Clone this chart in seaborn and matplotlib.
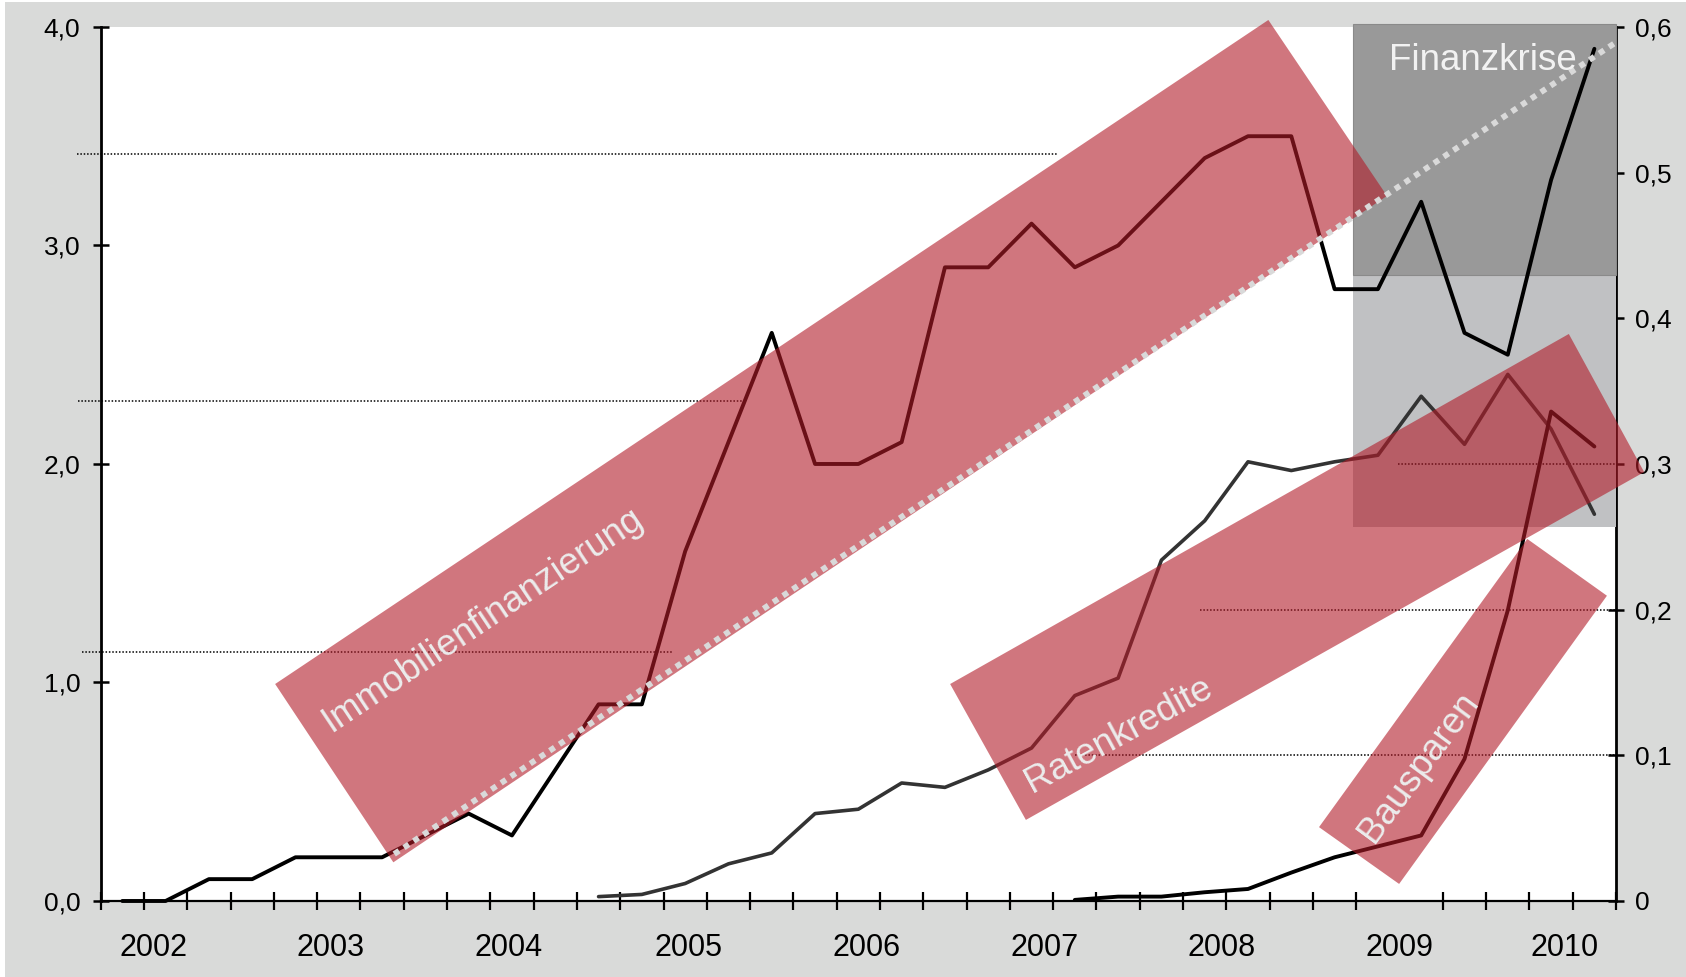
import numpy as np
import pandas as pd
import matplotlib
matplotlib.use("Agg")
import matplotlib.pyplot as plt
from matplotlib.patches import Polygon, Rectangle
import seaborn as sns

# quarterly series, quarter 0 = first quarter shown
immo_values = [0.0, 0.0, 0.1, 0.1, 0.2, 0.2, 0.2, 0.3, 0.4, 0.3, 0.6, 0.9, 0.9, 1.6, 2.1, 2.6, 2.0, 2.0,
               2.1, 2.9, 2.9, 3.1, 2.9, 3.0, 3.2, 3.4, 3.5, 3.5, 2.8, 2.8, 3.2, 2.6, 2.5, 3.3, 3.9]
raten_start = 11
raten_values = [0.02, 0.03, 0.08, 0.17, 0.22, 0.40, 0.42, 0.54, 0.52, 0.60, 0.70, 0.94, 1.02, 1.56,
                1.74, 2.01, 1.97, 2.01, 2.04, 2.31, 2.09, 2.41, 2.16, 1.77]
bauspar_start = 22
bauspar_values = [0.005, 0.02, 0.02, 0.04, 0.055, 0.13, 0.20, 0.25, 0.30, 0.65, 1.33, 2.24, 2.08]

n_quarters = 35
years = ['2002', '2003', '2004', '2005', '2006', '2007', '2008', '2009', '2010']
year_pos = [1.23, 5.32, 9.43, 13.57, 17.7, 21.8, 25.9, 30.0, 33.8]
left_ticks = [0.0, 1.0, 2.0, 3.0, 4.0]
right_ticks = [0, 0.1, 0.2, 0.3, 0.4, 0.5, 0.6]

# annotation shapes (quarter position, left-axis value)
band_immo = [(4.03, 0.993), (6.76, 0.177), (29.71, 3.227), (26.97, 4.032)]
band_raten = [(19.62, 0.993), (21.37, 0.371), (35.65, 1.963), (33.91, 2.595)]
band_bauspar = [(28.14, 0.338), (29.99, 0.078), (34.79, 1.397), (32.95, 1.657)]
band_labels = [('Immobilienfinanzierung', 8.95, 1.25, 33.7),
               ('Ratenkredite', 23.62, 0.72, 28.5),
               ('Bausparen', 30.62, 0.586, 53.5)]
trend = ([6.78, 35.0], [0.215, 3.93])
ref_lines = [(3.42, -0.55, 22.1), (2.29, -0.52, 14.85), (1.14, -0.43, 13.2),
             (2.0, 29.96, 35.0), (1.333, 25.4, 35.0), (0.667, 22.5, 35.0)]
crisis_x = (28.93, 35.0)
crisis_dark = (2.865, 4.014)
crisis_light = (1.713, 2.865)

sns.set_style('ticks')
plt.rcParams['font.family'] = ['Liberation Sans', 'DejaVu Sans']

fig = plt.figure(figsize=(16.86, 9.77), dpi=100, facecolor='white')
fig.patches.append(Rectangle((5 / 1686, 0), 1, 975 / 977, transform=fig.transFigure,
                             facecolor='#d9dad9', edgecolor='none', zorder=-10))
ax = fig.add_axes([0.0597, 0.0778, 0.8988, 0.8946])
ax.set_facecolor('white')

# crisis box
ax.add_patch(Rectangle((crisis_x[0], crisis_light[0]), crisis_x[1] - crisis_x[0],
                       crisis_light[1] - crisis_light[0], facecolor='#c0c1c3', edgecolor='none',
                       zorder=0.5, clip_on=False))
ax.add_patch(Rectangle((crisis_x[0], crisis_dark[0]), crisis_x[1] - crisis_x[0],
                       crisis_dark[1] - crisis_dark[0], facecolor='#999999', edgecolor='#8a8a8a',
                       lw=0.8, zorder=0.6, clip_on=False))

for y, x0, x1 in ref_lines:
    ax.plot([x0, x1], [y, y], color='black', lw=1.1, ls=(0, (1, 1.2)), zorder=1, clip_on=False)

df_immo = pd.DataFrame({'q': np.arange(len(immo_values)) + 0.5, 'v': immo_values})
df_raten = pd.DataFrame({'q': np.arange(len(raten_values)) + raten_start + 0.5, 'v': raten_values})
df_bau = pd.DataFrame({'q': np.arange(len(bauspar_values)) + bauspar_start + 0.5, 'v': bauspar_values})

sns.lineplot(data=df_immo, x='q', y='v', ax=ax, color='black', lw=2.8, zorder=2, clip_on=False)
sns.lineplot(data=df_raten, x='q', y='v', ax=ax, color='#333333', lw=2.6, zorder=2)
sns.lineplot(data=df_bau, x='q', y='v', ax=ax, color='black', lw=2.8, zorder=2)

for band in [band_immo, band_raten, band_bauspar]:
    ax.add_patch(Polygon(band, closed=True, facecolor='#b21b28', alpha=0.6, edgecolor='none',
                         zorder=3, clip_on=False))

ax.plot(trend[0], trend[1], color='#d9d9d9', lw=4.2, ls=(0, (1.0, 1.0)), zorder=4,
        solid_capstyle='butt', clip_on=False)

for txt, x, y, rot in band_labels:
    ax.text(x, y, txt, rotation=rot, rotation_mode='anchor', ha='center', va='baseline',
            fontsize=26.5, color='#ececec', zorder=5)
ax.text(31.93, 3.803, 'Finanzkrise', ha='center', va='baseline', fontsize=26.5,
        color='#f2f2f2', zorder=5)

ax.set_xlim(0, n_quarters)
ax.set_ylim(0, 4)
ax.set_xlabel('')
ax.set_ylabel('')
ax.set_xticks(year_pos)
ax.set_xticklabels(years)
ax.set_xticks(np.arange(n_quarters + 1), minor=True)
ax.tick_params(axis='x', which='major', length=0, pad=23, labelsize=22, colors='black')
ax.tick_params(axis='x', which='minor', direction='inout', length=12.5, width=1.6, color='black')
ax.set_yticks(left_ticks)
ax.set_yticklabels([f'{t:.1f}'.replace('.', ',') for t in left_ticks])
ax.tick_params(axis='y', direction='inout', length=12, width=1.8, pad=8.6, labelsize=19,
               colors='black')

sec = ax.secondary_yaxis('right', functions=(lambda v: v * 0.15, lambda v: v / 0.15))
sec.set_yticks(right_ticks)
sec.set_yticklabels(['0' if t == 0 else f'{t:.1f}'.replace('.', ',') for t in right_ticks])
sec.tick_params(axis='y', direction='inout', length=12, width=1.8, pad=7.6, labelsize=19,
                colors='black')
sec.spines['right'].set_linewidth(2.0)
sec.spines['right'].set_color('black')

ax.spines['top'].set_visible(False)
ax.spines['right'].set_visible(False)
ax.spines['left'].set_linewidth(2.0)
ax.spines['left'].set_color('black')
ax.spines['bottom'].set_linewidth(1.6)
ax.spines['bottom'].set_color('black')
for s in ax.spines.values():
    s.set_zorder(6)
ax.grid(False)

fig.savefig('out.png', dpi=100, facecolor=fig.get_facecolor())
